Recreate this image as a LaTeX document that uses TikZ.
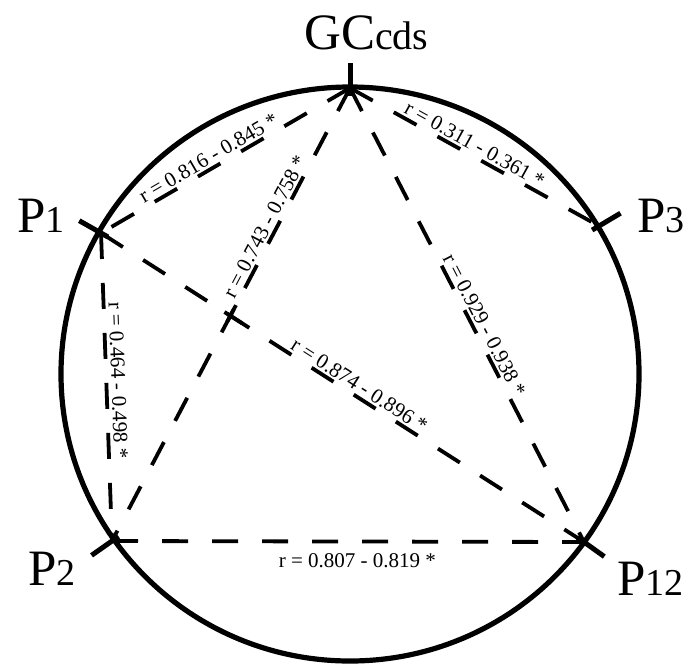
\documentclass[tikz,border=0pt]{standalone}
\usepackage{fontspec}
\setmainfont{Liberation Serif}
\usetikzlibrary{calc}
\begin{document}
\begin{tikzpicture}[x=1pt,y=-1pt,
  ring/.style={line width=5.2pt},
  tickmark/.style={line width=5pt},
  link/.style={line width=3.8pt, dash pattern=on 26pt off 24pt},
  crossmark/.style={line width=3.8pt},
  rlab/.style={font=\fontsize{21}{21}\selectfont, inner sep=2pt, sloped},
  bigP/.style={font=\fontsize{51}{51}\selectfont, inner sep=0pt, anchor=base west}]
\useasboundingbox (0,0) rectangle (684,666);
\coordinate (O) at (350,374);
\draw[ring] (O) ellipse [x radius=289, y radius=287];
\coordinate (GC) at (350,88);
\coordinate (P1) at (101,233);
\coordinate (P3) at (599,226);
\coordinate (P2) at (112,541);
\coordinate (P12) at (584,542);
% ticks
\foreach \p in {GC,P1,P3,P2,P12}
  \draw[tickmark] ($(\p)!8pt!(O)$) -- ($(\p)!-25pt!(O)$);
% connectors
\draw[link] (GC) -- node[rlab, pos=0.546, above] (lGCP1) {r = 0.816 - 0.845 *} (P1);
\draw[link] (GC) -- node[rlab, pos=0.317, above] (lGCP2) {r = 0.743 - 0.758 *} (P2);
\draw[link] (GC) -- node[rlab, pos=0.48, above] (lGCP3) {r = 0.311 - 0.361 *} (P3);
\draw[link] (GC) -- node[rlab, pos=0.533, above] (lGCP12) {r = 0.929 - 0.938 *} (P12);
\draw[link] (P1) -- node[rlab, pos=0.523, above] (lP1P12) {r = 0.874 - 0.896 *} (P12);
\draw[link] (P1) -- node[rlab, pos=0.48, above=1pt] (lP1P2) {r = 0.464 - 0.498 *} (P2);
\draw[link] (P2) -- node[rlab, pos=0.52, below=8pt] (lP2P12) {r = 0.807 - 0.819 *} (P12);
% crossing mark
\coordinate (X) at (intersection of P1--P12 and GC--P2);
\draw[crossmark] ($(X)!-7pt!(P12)$) -- ($(X)!14pt!(P12)$);
\draw[crossmark] ($(X)!-7pt!(GC)$) -- ($(X)!12pt!(GC)$);
% vertex labels
\node[bigP] (tGC) at (304,50) {GC{\fontsize{40}{40}\selectfont cds}};
\node[bigP] (tP1) at (17,232) {P{\fontsize{38}{38}\selectfont 1}};
\node[bigP] (tP3) at (637,232) {P{\fontsize{38}{38}\selectfont 3}};
\node[bigP] (tP2) at (28,585) {P{\fontsize{38}{38}\selectfont 2}};
\node[bigP] (tP12) at (617,595) {P{\fontsize{38}{38}\selectfont 12}};
\end{tikzpicture}
\end{document}
